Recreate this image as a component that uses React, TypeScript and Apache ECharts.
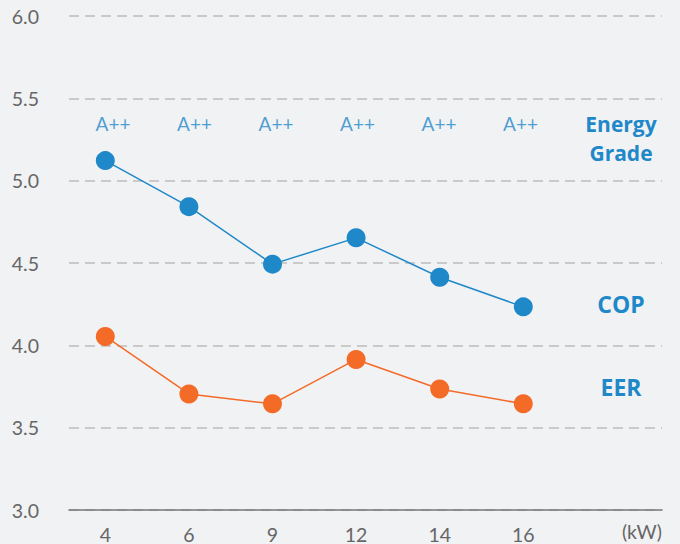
import React, { useEffect, useRef } from "react";
import * as echarts from "echarts";

const categories = ["4", "6", "9", "12", "14", "16"];
const copValues = [5.12, 4.84, 4.49, 4.65, 4.41, 4.23];
const eerValues = [4.05, 3.7, 3.64, 3.91, 3.73, 3.64];
const grades = ["A++", "A++", "A++", "A++", "A++", "A++"];
const gradeLevel = 5.35;
const yTicks = { min: 3.0, max: 6.0, interval: 0.5 };

const BLUE = "#1f88c9";
const ORANGE = "#f46a27";
const FONT = "Lato, 'Noto Sans', sans-serif";
const BOLD_FONT = "'Open Sans', 'Noto Sans', sans-serif";

export default function App() {
  const ref = useRef<HTMLDivElement>(null);
  useEffect(() => {
    if (!ref.current) return;
    const chart = echarts.init(ref.current, null, { renderer: "svg" });
    const gTop = 16;
    const gBottom = 34;
    const hiddenY = (idx: number) => ({
      type: "value",
      gridIndex: idx,
      min: yTicks.min,
      max: yTicks.max,
      interval: yTicks.interval,
      show: false,
      splitLine: { show: false },
    });
    const sideText = (text: string, y: number, size: number) => ({
      type: "text",
      x: 621,
      y,
      style: {
        text,
        fill: BLUE,
        font: `bold ${size}px ${BOLD_FONT}`,
        textAlign: "center",
        textVerticalAlign: "middle",
      },
    });
    chart.setOption({
      animation: false,
      backgroundColor: "#f1f2f4",
      textStyle: { fontFamily: FONT },
      grid: [
        { left: 69, right: 18, top: gTop, bottom: gBottom },
        { left: 63.5, width: 501.6, top: gTop, bottom: gBottom },
        { left: 72.3, width: 489, top: gTop, bottom: gBottom },
      ],
      xAxis: [
        {
          type: "category",
          gridIndex: 0,
          data: categories,
          axisLine: { show: true, lineStyle: { color: "#777", width: 1.5 } },
          axisTick: { show: false },
          axisLabel: { show: false },
          splitLine: { show: false },
        },
        {
          type: "category",
          gridIndex: 1,
          data: categories,
          boundaryGap: true,
          axisLine: { show: false },
          axisTick: { show: false },
          axisLabel: { color: "#666", fontSize: 19.5, margin: 15, fontFamily: FONT },
          splitLine: { show: false },
        },
        {
          type: "category",
          gridIndex: 2,
          data: categories,
          show: false,
          splitLine: { show: false },
        },
      ],
      yAxis: [
        {
          type: "value",
          gridIndex: 0,
          min: yTicks.min,
          max: yTicks.max,
          interval: yTicks.interval,
          axisLine: { show: false },
          axisTick: { show: false },
          axisLabel: {
            color: "#666",
            fontSize: 19.5,
            margin: 30,
            fontFamily: FONT,
            formatter: (v: number) => v.toFixed(1),
          },
          splitLine: { show: true, lineStyle: { color: "#bdbdbd", type: [10, 6], width: 1.5 } },
        },
        hiddenY(1),
        hiddenY(2),
      ],
      series: [
        {
          name: "COP",
          type: "line",
          xAxisIndex: 1,
          yAxisIndex: 1,
          data: copValues,
          symbol: "circle",
          symbolSize: 19,
          itemStyle: { color: BLUE },
          lineStyle: { color: BLUE, width: 1.5 },
        },
        {
          name: "EER",
          type: "line",
          xAxisIndex: 1,
          yAxisIndex: 1,
          data: eerValues,
          symbol: "circle",
          symbolSize: 19,
          itemStyle: { color: ORANGE },
          lineStyle: { color: ORANGE, width: 1.5 },
        },
        {
          name: "Grade",
          type: "scatter",
          xAxisIndex: 2,
          yAxisIndex: 2,
          data: grades.map(() => gradeLevel),
          symbolSize: 2,
          itemStyle: { color: "rgba(0,0,0,0)" },
          label: {
            show: true,
            position: "inside",
            formatter: (p: any) => grades[p.dataIndex],
            color: BLUE,
            fontSize: 19,
            fontFamily: FONT,
          },
          silent: true,
        },
      ],
      graphic: [
        sideText("Energy", 124, 21),
        sideText("Grade", 153, 21),
        sideText("COP", 304, 23),
        sideText("EER", 387, 23),
        {
          type: "text",
          right: 18,
          top: 521,
          style: { text: "(kW)", fill: "#666", font: `19.5px ${FONT}` },
        },
      ],
    });
    return () => chart.dispose();
  }, []);
  return (
    <div
      ref={ref}
      style={{ position: "absolute", left: 0, top: 0, width: 680, height: 544 }}
    />
  );
}
